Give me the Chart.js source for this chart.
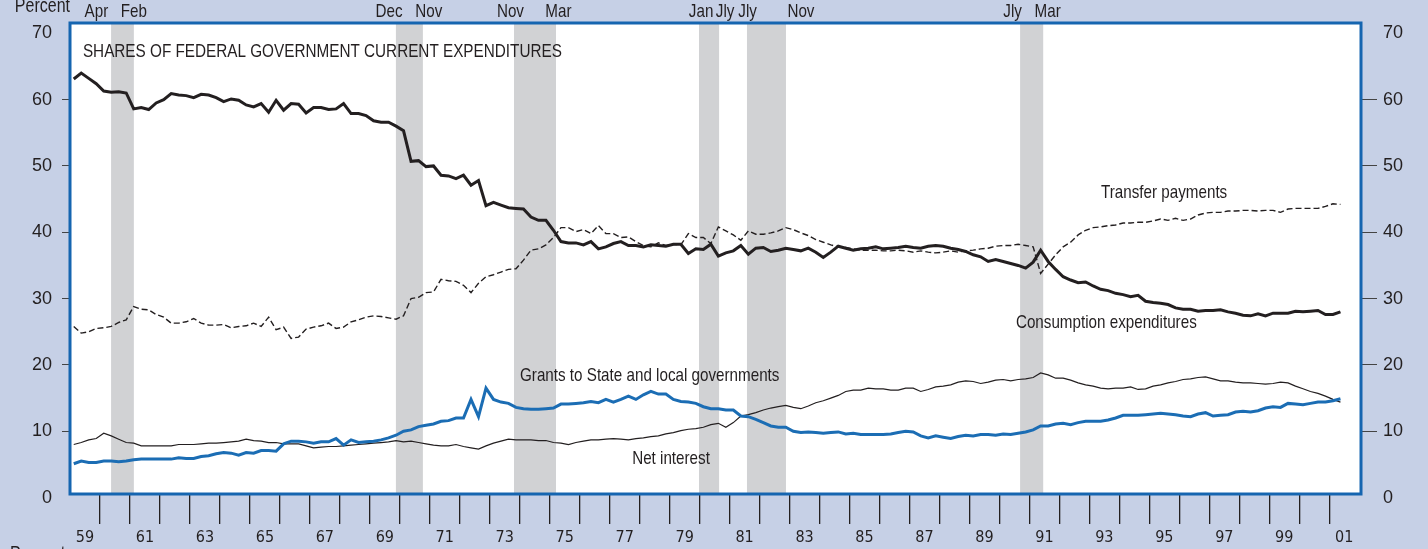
<!DOCTYPE html>
<html>
<head>
<meta charset="utf-8">
<script src="https://cdn.jsdelivr.net/npm/chart.js@4.4.1/dist/chart.umd.min.js"></script>
<style>
  html, body { margin: 0; padding: 0; background: #c6d0e6; }
  canvas { display: block; }
</style>
</head>
<body>
<canvas id="chart" width="1428" height="549"></canvas>
<script>
// quarterly shares, percent, 1959Q1 .. 2001Q2
const consumption = [
  63.1, 64.0, 63.2, 62.4, 61.3, 61.1, 61.2, 61.0, 58.6, 58.8,
  58.5, 59.5, 60.0, 60.9, 60.7, 60.6, 60.3, 60.8, 60.7, 60.3,
  59.7, 60.1, 59.9, 59.2, 58.9, 59.4, 58.1, 59.9, 58.4, 59.4,
  59.3, 58.0, 58.8, 58.8, 58.5, 58.6, 59.4, 57.9, 57.9, 57.6,
  56.8, 56.6, 56.6, 56.0, 55.3, 50.7, 50.8, 49.9, 50.0, 48.6,
  48.5, 48.1, 48.6, 47.1, 47.8, 44.0, 44.5, 44.1, 43.7, 43.6,
  43.5, 42.3, 41.8, 41.8, 40.3, 38.6, 38.4, 38.4, 38.1, 38.6,
  37.5, 37.8, 38.3, 38.6, 38.0, 38.0, 37.8, 38.1, 38.0, 37.9,
  38.2, 38.2, 36.8, 37.5, 37.4, 38.2, 36.4, 36.9, 37.2, 38.0,
  36.7, 37.6, 37.7, 37.1, 37.3, 37.6, 37.4, 37.2, 37.6, 37.0,
  36.2, 37.0, 37.9, 37.6, 37.3, 37.5, 37.6, 37.8, 37.5, 37.6,
  37.7, 37.9, 37.7, 37.6, 37.9, 38.0, 37.9, 37.6, 37.4, 37.1,
  36.6, 36.3, 35.6, 35.9, 35.6, 35.3, 35.0, 34.6, 35.5, 37.3,
  35.6, 34.4, 33.3, 32.8, 32.4, 32.5, 31.9, 31.4, 31.2, 30.8,
  30.6, 30.3, 30.5, 29.6, 29.4, 29.3, 29.1, 28.6, 28.4, 28.4,
  28.1, 28.2, 28.2, 28.3, 28.0, 27.8, 27.5, 27.4, 27.7, 27.4,
  27.8, 27.8, 27.8, 28.1, 28.0, 28.1, 28.2, 27.6, 27.6, 28.0
];
const transfers = [
  25.8, 24.8, 25.0, 25.5, 25.6, 25.8, 26.4, 26.8, 28.8, 28.4,
  28.3, 27.6, 27.2, 26.3, 26.3, 26.5, 27.0, 26.3, 26.0, 26.0,
  26.1, 25.6, 25.8, 25.9, 26.3, 25.8, 27.2, 25.3, 25.7, 24.0,
  24.2, 25.4, 25.7, 25.9, 26.3, 25.5, 25.7, 26.5, 26.8, 27.2,
  27.4, 27.3, 27.1, 26.9, 27.4, 30.0, 30.2, 30.9, 31.0, 32.9,
  32.7, 32.6, 32.0, 30.9, 32.3, 33.3, 33.6, 34.0, 34.4, 34.5,
  35.8, 37.3, 37.5, 38.1, 39.2, 40.7, 40.7, 40.1, 40.4, 39.8,
  41.0, 39.8, 39.8, 39.2, 39.3, 38.6, 38.0, 37.8, 38.4, 38.0,
  38.2, 38.1, 39.8, 39.2, 39.2, 38.3, 40.8, 40.2, 39.6, 38.8,
  40.2, 39.7, 39.7, 39.9, 40.2, 40.7, 40.4, 39.9, 39.5, 38.9,
  38.5, 38.1, 37.8, 37.7, 37.5, 37.3, 37.3, 37.3, 37.2, 37.2,
  37.3, 37.2, 37.0, 37.2, 37.0, 36.9, 37.0, 37.2, 37.0, 37.2,
  37.3, 37.5, 37.6, 37.9, 38.0, 38.0, 38.2, 38.0, 37.8, 33.8,
  35.2, 36.6, 37.8, 38.5, 39.6, 40.3, 40.7, 40.8, 41.0, 41.1,
  41.4, 41.4, 41.5, 41.5, 41.7, 42.0, 41.8, 42.1, 41.8, 42.0,
  42.6, 42.9, 43.0, 43.0, 43.2, 43.2, 43.3, 43.3, 43.2, 43.3,
  43.3, 43.0, 43.5, 43.6, 43.6, 43.6, 43.6, 43.9, 44.3, 44.2
];
const grants = [
  5.1, 5.5, 5.3, 5.3, 5.5, 5.5, 5.4, 5.5, 5.7, 5.8,
  5.8, 5.8, 5.8, 5.8, 6.0, 5.9, 5.9, 6.2, 6.3, 6.6,
  6.8, 6.7, 6.4, 6.8, 6.7, 7.1, 7.1, 7.0, 8.1, 8.5,
  8.5, 8.4, 8.2, 8.4, 8.4, 8.9, 7.9, 8.7, 8.3, 8.4,
  8.5, 8.7, 9.0, 9.4, 10.0, 10.2, 10.7, 10.9, 11.1, 11.5,
  11.6, 12.0, 12.0, 14.8, 12.2, 16.5, 14.8, 14.4, 14.2, 13.6,
  13.4, 13.3, 13.3, 13.4, 13.5, 14.1, 14.1, 14.2, 14.3, 14.5,
  14.3, 14.8, 14.4, 14.8, 15.3, 14.8, 15.5, 16.0, 15.6, 15.6,
  14.8, 14.5, 14.4, 14.2, 13.7, 13.4, 13.4, 13.2, 13.2, 12.3,
  12.2, 11.8, 11.3, 10.8, 10.6, 10.6, 10.0, 9.8, 9.9, 9.8,
  9.7, 9.8, 9.9, 9.6, 9.7, 9.5, 9.5, 9.5, 9.5, 9.6,
  9.8, 10.0, 9.9, 9.3, 9.0, 9.3, 9.1, 8.9, 9.2, 9.4,
  9.3, 9.5, 9.5, 9.4, 9.6, 9.5, 9.7, 9.9, 10.2, 10.8,
  10.8, 11.1, 11.2, 11.0, 11.3, 11.5, 11.5, 11.5, 11.7, 12.0,
  12.4, 12.4, 12.4, 12.5, 12.6, 12.7, 12.6, 12.5, 12.3, 12.2,
  12.6, 12.8, 12.3, 12.4, 12.5, 12.9, 13.0, 12.9, 13.1, 13.5,
  13.7, 13.6, 14.2, 14.1, 14.0, 14.2, 14.4, 14.4, 14.6, 14.9
];
const netInterest = [
  8.0, 8.3, 8.7, 8.9, 9.7, 9.3, 8.8, 8.3, 8.2, 7.8,
  7.8, 7.8, 7.8, 7.8, 8.0, 8.0, 8.0, 8.1, 8.2, 8.2,
  8.3, 8.4, 8.5, 8.8, 8.6, 8.5, 8.3, 8.3, 8.1, 8.1,
  8.1, 7.8, 7.5, 7.6, 7.7, 7.7, 7.8, 7.9, 8.0, 8.1,
  8.2, 8.3, 8.4, 8.6, 8.4, 8.5, 8.3, 8.1, 7.9, 7.8,
  7.8, 8.0, 7.7, 7.5, 7.3, 7.8, 8.2, 8.5, 8.8, 8.7,
  8.7, 8.7, 8.6, 8.6, 8.3, 8.2, 8.0, 8.3, 8.5, 8.7,
  8.7, 8.8, 8.9, 8.8, 8.7, 8.9, 9.0, 9.2, 9.3, 9.6,
  9.8, 10.1, 10.3, 10.4, 10.6, 11.0, 11.2, 10.6, 11.3, 12.3,
  12.5, 12.8, 13.2, 13.5, 13.7, 13.9, 13.6, 13.4, 13.8, 14.3,
  14.6, 15.0, 15.4, 16.0, 16.2, 16.2, 16.5, 16.4, 16.4, 16.2,
  16.2, 16.5, 16.5, 16.0, 16.3, 16.7, 16.8, 17.0, 17.4, 17.6,
  17.5, 17.2, 17.4, 17.7, 17.8, 17.6, 17.8, 17.9, 18.1, 18.8,
  18.5, 18.0, 18.0, 17.7, 17.3, 17.0, 16.8, 16.5, 16.4, 16.5,
  16.5, 16.7, 16.3, 16.4, 16.8, 17.0, 17.3, 17.5, 17.8, 17.9,
  18.1, 18.2, 17.9, 17.6, 17.6, 17.4, 17.3, 17.3, 17.2, 17.1,
  17.2, 17.4, 17.3, 16.8, 16.4, 16.0, 15.7, 15.3, 14.8, 14.4
];

// recessions (decimal years) and their month labels
const recessionStart = [1960.37, 1969.87, 1973.81, 1979.98, 1981.58, 1990.69];
const recessionEnd   = [1961.13, 1970.77, 1975.21, 1980.65, 1982.88, 1991.46];
const monthLabels = ['Apr', 'Feb', 'Dec', 'Nov', 'Nov', 'Mar', 'Jan', 'Jly', 'Jly', 'Nov', 'Jly', 'Mar'];
const monthLabelYears = [1959.88, 1961.13, 1969.64, 1970.97, 1973.69, 1975.29,
                         1980.05, 1980.85, 1981.60, 1983.38, 1990.44, 1991.61];

const yTicks = [0, 10, 20, 30, 40, 50, 60, 70];
const firstYear = 1959;
const lastTickYear = 2001;

const quarters = consumption.map((_, i) => firstYear + 0.125 + i * 0.25);
const pts = (arr) => arr.map((v, i) => ({ x: quarters[i], y: v }));

const INK = '#231f20';
const BLUE = '#1b6db4';
const FRAME = '#1565b0';
const BG = '#c6d0e6';
const SHADE = '#d1d2d4';
const CONDENSED = "'DejaVu Sans Condensed', 'DejaVu Sans', sans-serif";
const REGULAR = "'Liberation Sans', Arial, sans-serif";
const SQUEEZE = 0.8; // Liberation Sans squeezed to look like the narrow face of the print

const yearTicks = [];
for (let y = firstYear; y <= lastTickYear; y++) yearTicks.push({ value: y });

const notes = [
  { text: 'Transfer payments', x: 1993.39, y: 45.9 },
  { text: 'Consumption expenditures', x: 1990.55, y: 26.3 },
  { text: 'Grants to State and local governments', x: 1974.01, y: 18.3 },
  { text: 'Net interest', x: 1977.75, y: 5.8 }
];

function narrowText(ctx, text, x, y, size, align) {
  ctx.font = size + 'px ' + REGULAR;
  const w = ctx.measureText(text).width * SQUEEZE;
  let left = x;
  if (align === 'center') left = x - w / 2;
  if (align === 'right') left = x - w;
  ctx.save();
  ctx.textAlign = 'left';
  ctx.translate(left, y);
  ctx.scale(SQUEEZE, 1);
  ctx.fillText(text, 0, 0);
  ctx.restore();
}

const decor = {
  id: 'decor',
  beforeDraw(chart) {
    const { ctx, chartArea: a } = chart;
    ctx.save();
    ctx.fillStyle = BG;
    ctx.fillRect(0, 0, chart.width, chart.height);
    ctx.fillStyle = '#ffffff';
    ctx.fillRect(a.left, a.top, a.right - a.left, a.bottom - a.top);
    ctx.restore();
  },
  beforeDatasetsDraw(chart) {
    const { ctx, chartArea: a, scales } = chart;
    ctx.save();
    ctx.fillStyle = SHADE;
    recessionStart.forEach((s, i) => {
      const x0 = scales.x.getPixelForValue(s);
      const x1 = scales.x.getPixelForValue(recessionEnd[i]);
      ctx.fillRect(x0, a.top, x1 - x0, a.bottom - a.top);
    });
    ctx.restore();
  },
  afterDatasetsDraw(chart) {
    const { ctx, chartArea: a, scales } = chart;
    ctx.save();
    ctx.strokeStyle = FRAME;
    ctx.lineWidth = 3;
    ctx.strokeRect(a.left, a.top, a.right - a.left, a.bottom - a.top);

    ctx.fillStyle = INK;
    ctx.textBaseline = 'middle';

    // title, squeezed to the width it has in the print
    const title = 'SHARES OF FEDERAL GOVERNMENT CURRENT EXPENDITURES';
    ctx.font = '18px ' + REGULAR;
    const w = ctx.measureText(title).width;
    ctx.save();
    ctx.translate(scales.x.getPixelForValue(1959.43), scales.y.getPixelForValue(67.2));
    ctx.scale(479 / w, 1);
    ctx.textAlign = 'left';
    ctx.fillText(title, 0, 0);
    ctx.restore();

    notes.forEach(n => {
      narrowText(ctx, n.text, scales.x.getPixelForValue(n.x), scales.y.getPixelForValue(n.y), 19, 'left');
    });

    // recession month labels above the frame
    ctx.textBaseline = 'alphabetic';
    monthLabels.forEach((m, i) => {
      narrowText(ctx, m, scales.x.getPixelForValue(monthLabelYears[i]), 17, 19, 'center');
    });

    narrowText(ctx, 'Percent', 70, 12, 20, 'right');
    narrowText(ctx, 'Percent', 10, 560, 20, 'left');
    ctx.restore();
  }
};

const yAxis = (position, width, tickLength, padding) => ({
  position,
  min: 0.54,
  max: 71.55,
  afterBuildTicks: (s) => { s.ticks = yTicks.map(v => ({ value: v })); },
  afterFit: (s) => { s.width = width; },
  border: { display: false },
  grid: {
    drawOnChartArea: false,
    tickLength,
    lineWidth: 1,
    color: (c) => (c.tick && (c.tick.value === 0 || c.tick.value === 70)) ? 'rgba(0,0,0,0)' : '#444'
  },
  ticks: {
    autoSkip: false,
    padding,
    color: INK,
    font: { family: REGULAR, size: 18 }
  }
});

new Chart(document.getElementById('chart'), {
  type: 'line',
  data: {
    datasets: [
      { label: 'Consumption expenditures', data: pts(consumption), borderColor: INK, borderWidth: 3 },
      { label: 'Transfer payments', data: pts(transfers), borderColor: INK, borderWidth: 1.4, borderDash: [6, 3] },
      { label: 'Grants to State and local governments', data: pts(grants), borderColor: BLUE, borderWidth: 3 },
      { label: 'Net interest', data: pts(netInterest), borderColor: INK, borderWidth: 1.2 }
    ]
  },
  options: {
    responsive: false,
    animation: false,
    parsing: false,
    elements: { point: { radius: 0 }, line: { tension: 0, borderJoinStyle: 'miter', borderCapStyle: 'butt' } },
    layout: { padding: { top: 23, left: 0, right: 0, bottom: 0 } },
    plugins: { legend: { display: false }, tooltip: { enabled: false } },
    scales: {
      x: {
        type: 'linear',
        min: 1959,
        max: 2002.06,
        afterBuildTicks: (s) => { s.ticks = yearTicks.map(t => ({ value: t.value })); },
        afterFit: (s) => { s.height = 55; },
        border: { display: false },
        grid: {
          drawOnChartArea: false,
          tickLength: 30,
          lineWidth: 1.3,
          color: (c) => (c.tick && c.tick.value === firstYear) ? 'rgba(0,0,0,0)' : INK
        },
        ticks: {
          autoSkip: false,
          maxRotation: 0,
          labelOffset: 15,
          padding: 4,
          color: INK,
          font: { family: CONDENSED, size: 16 },
          callback: (v) => (v % 2 === 1 ? String(v).slice(2) : '')
        }
      },
      y: yAxis('left', 70, 8, 10),
      y2: yAxis('right', 67, 16, 6)
    }
  },
  plugins: [decor]
});
</script>
</body>
</html>
